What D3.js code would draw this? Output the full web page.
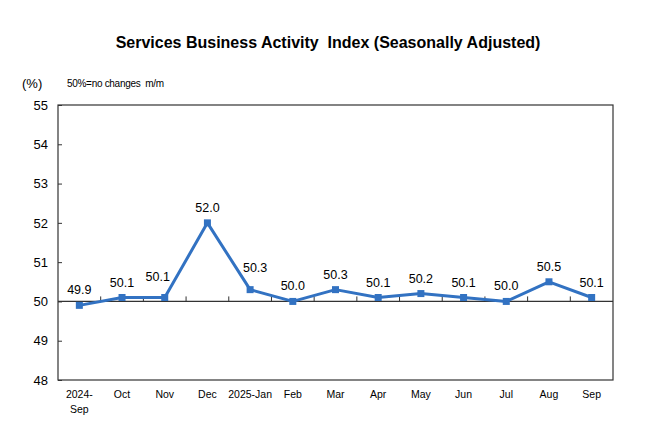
<!DOCTYPE html>
<meta charset="utf-8">
<title>services index</title>
<style>
body { margin: 0; background: #fff; }
text { font-family: "Liberation Sans", Arial, sans-serif; fill: #000; }
</style>
<body>
<div id="chart"></div>
<script src="https://cdn.jsdelivr.net/npm/d3@7/dist/d3.min.js"></script>
<script>
var months = ["2024-|Sep", "Oct", "Nov", "Dec", "2025-Jan", "Feb", "Mar", "Apr", "May", "Jun", "Jul", "Aug", "Sep"];
var values = [49.9, 50.1, 50.1, 52.0, 50.3, 50.0, 50.3, 50.1, 50.2, 50.1, 50.0, 50.5, 50.1];
var yTicks = [48, 49, 50, 51, 52, 53, 54, 55];

var width = 660, height = 440;
var margin = {top: 105, right: 47, bottom: 60, left: 58};
var w = width - margin.left - margin.right,
    h = height - margin.top - margin.bottom;

// small manual nudges of the value labels, like in the original
var labelNudge = {2: [-7, -6], 4: [5, -7]};

var svg = d3.select("#chart").append("svg")
    .attr("width", width)
    .attr("height", height);

svg.append("text")
    .attr("x", 328).attr("y", 48)
    .attr("text-anchor", "middle")
    .style("font-size", "16px").style("font-weight", "bold")
    .style("white-space", "pre")
    .text("Services Business Activity  Index (Seasonally Adjusted)");

svg.append("text")
    .attr("x", 22).attr("y", 88)
    .style("font-size", "13px")
    .text("(%)");

svg.append("text")
    .attr("x", 67).attr("y", 87)
    .style("font-size", "10px")
    .style("letter-spacing", "-0.3px")
    .style("white-space", "pre")
    .text("50%=no changes  m/m");

var g = svg.append("g")
    .attr("transform", "translate(" + margin.left + "," + margin.top + ")");

var x = d3.scaleBand().domain(months).range([0, w]);
var y = d3.scaleLinear().domain([48, 55]).range([h, 0]);

// frame
g.append("rect")
    .attr("width", w).attr("height", h)
    .attr("fill", "none")
    .attr("stroke", "#333").attr("stroke-width", 1.2);

// y axis
var yAxis = g.append("g")
    .call(d3.axisLeft(y).tickValues(yTicks).tickSize(-4).tickPadding(10).tickFormat(d3.format("d")));
yAxis.select(".domain").remove();
yAxis.selectAll("line").attr("stroke", "#333");
yAxis.selectAll("text").style("font-size", "13px").style("font-family", "Liberation Sans, Arial, sans-serif");

// baseline at 50 with category ticks
g.append("line")
    .attr("x1", 0).attr("x2", w)
    .attr("y1", y(50)).attr("y2", y(50))
    .attr("stroke", "#333").attr("stroke-width", 1.2);

g.selectAll(".ctick")
    .data(months.slice(1))
    .enter().append("line")
    .attr("class", "ctick")
    .attr("x1", function(d) { return x(d); })
    .attr("x2", function(d) { return x(d); })
    .attr("y1", y(50)).attr("y2", y(50) - 5)
    .attr("stroke", "#333");

// x labels
var xl = g.selectAll(".xl")
    .data(months)
    .enter().append("text")
    .attr("class", "xl")
    .attr("text-anchor", "middle")
    .style("font-size", "10.5px")
    .attr("transform", function(d) { return "translate(" + (x(d) + x.bandwidth() / 2) + "," + (h + 18) + ")"; });
xl.selectAll("tspan")
    .data(function(d) { return d.split("|"); })
    .enter().append("tspan")
    .attr("x", 0)
    .attr("dy", function(d, i) { return i ? 15 : 0; })
    .text(function(d) { return d; });

var cx = function(d, i) { return x(months[i]) + x.bandwidth() / 2; };

var line = d3.line()
    .x(cx)
    .y(function(d) { return y(d); });

g.append("path")
    .datum(values)
    .attr("fill", "none")
    .attr("stroke", "#3272C2")
    .attr("stroke-width", 3)
    .attr("stroke-linejoin", "round")
    .attr("d", line);

g.selectAll(".pt")
    .data(values)
    .enter().append("rect")
    .attr("class", "pt")
    .attr("x", function(d, i) { return cx(d, i) - 3.5; })
    .attr("y", function(d) { return y(d) - 3.5; })
    .attr("width", 7).attr("height", 7)
    .attr("fill", "#3272C2");

g.selectAll(".vl")
    .data(values)
    .enter().append("text")
    .attr("class", "vl")
    .attr("x", function(d, i) { return cx(d, i) + (labelNudge[i] ? labelNudge[i][0] : 0); })
    .attr("y", function(d, i) { return y(d) - 11 + (labelNudge[i] ? labelNudge[i][1] : 0); })
    .attr("text-anchor", "middle")
    .style("font-size", "12.5px")
    .text(function(d) { return d.toFixed(1); });
</script>
</body>
